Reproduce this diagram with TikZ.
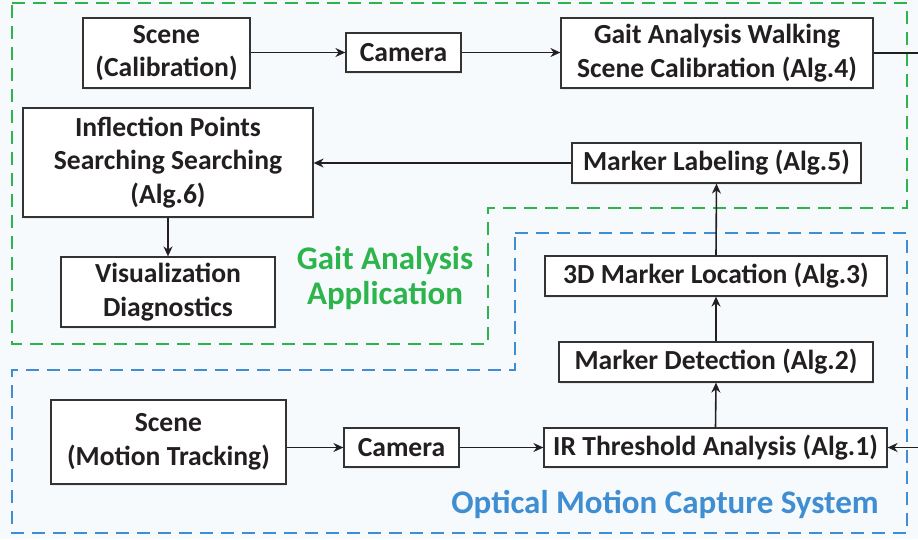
\documentclass[tikz,border=0pt]{standalone}
\usepackage{fontspec}
\setmainfont{Carlito}
\usetikzlibrary{arrows.meta,shadows}
\definecolor{bgc}{HTML}{F7FAFD}
\definecolor{gcol}{HTML}{2DB44C}
\definecolor{bcol}{HTML}{3F8ED2}
\definecolor{tcol}{HTML}{231F20}
\definecolor{edgec}{HTML}{333333}
\tikzset{
  box/.style={draw=edgec, line width=1.2pt, fill=white, inner sep=0pt, align=center,
    text=tcol, font=\fontsize{27.6}{33.5}\selectfont\bfseries,
    drop shadow={shadow xshift=1.2pt, shadow yshift=-1.5pt, opacity=0.12}},
  conn/.style={draw=tcol, line width=1.6pt},
  arr/.style={conn, -{Stealth[length=10pt,width=9pt]}},
  region/.style={line width=1.8pt, dash pattern=on 13pt off 8pt},
}
\begin{document}
\begin{tikzpicture}[x=1pt,y=-1pt]
\useasboundingbox (0,0) rectangle (918,539);
\fill[bgc] (0,0) rectangle (918,539);
% regions
\draw[region, draw=gcol] (12,3) -- (907,3) -- (907,208) -- (488,208) -- (488,344) -- (12,344) -- cycle;
\draw[region, draw=bcol] (515,233) -- (907,233) -- (907,533) -- (12,533) -- (12,370) -- (515,370) -- cycle;
% boxes
\node[box, minimum width=167pt, minimum height=70pt] (scal) at (166.5,53) {Scene\\(Calibration)};
\node[box, minimum width=115pt, minimum height=39pt] (cam1) at (403.5,52.5) {Camera};
\node[box, minimum width=312pt, minimum height=70pt] (ga) at (717,53) {Gait Analysis Walking\\Scene Calibration (Alg.4)};
\node[box, minimum width=290pt, minimum height=109pt] (infl) at (168,162.5) {Inflection Points\\Searching Searching\\(Alg.6)};
\node[box, minimum width=289pt, minimum height=40pt] (mlab) at (716.5,163) {Marker Labeling (Alg.5)};
\node[box, minimum width=214pt, minimum height=70pt] (vis) at (168,292) {Visualization\\Diagnostics};
\node[box, minimum width=342pt, minimum height=40pt] (m3d) at (716,276) {3D Marker Location (Alg.3)};
\node[box, minimum width=314pt, minimum height=40pt] (mdet) at (716,362) {Marker Detection (Alg.2)};
\node[box, minimum width=235pt, minimum height=84pt] (smt) at (168.5,442) {Scene\\(Motion Tracking)};
\node[box, minimum width=115pt, minimum height=39pt] (cam2) at (401.5,447.5) {Camera};
\node[box, minimum width=343pt, minimum height=39pt] (ir) at (715.5,447.5) {IR Threshold Analysis (Alg.1)};
% labels
\node[align=center, text=gcol, font=\fontsize{33}{35}\selectfont\bfseries] (lga) at (385,278) {Gait Analysis\\Application};
\node[text=bcol, font=\fontsize{33}{35}\selectfont\bfseries] (lom) at (665,504) {Optical Motion Capture System};
% free ends
\coordinate (eR1) at (918,53);
\coordinate (eR2) at (918,447.5);
% connectors
\draw[arr] (scal.east |- cam1.west) -- (cam1.west);
\draw[arr] (cam1.east) -- (ga.west |- cam1.east);
\draw[conn] (ga.east) -- (eR1);
\draw[arr] (mlab.west) -- (infl.east |- mlab.west);
\draw[arr] (infl.south) -- (vis.north);
\draw[arr] (m3d.north) -- (mlab.south);
\draw[arr] (mdet.north) -- (m3d.south);
\draw[arr] (ir.north) -- (mdet.south);
\draw[arr] (smt.east |- cam2.west) -- (cam2.west);
\draw[arr] (cam2.east) -- (ir.west);
\draw[arr] (eR2) -- (ir.east);
\end{tikzpicture}
\end{document}
